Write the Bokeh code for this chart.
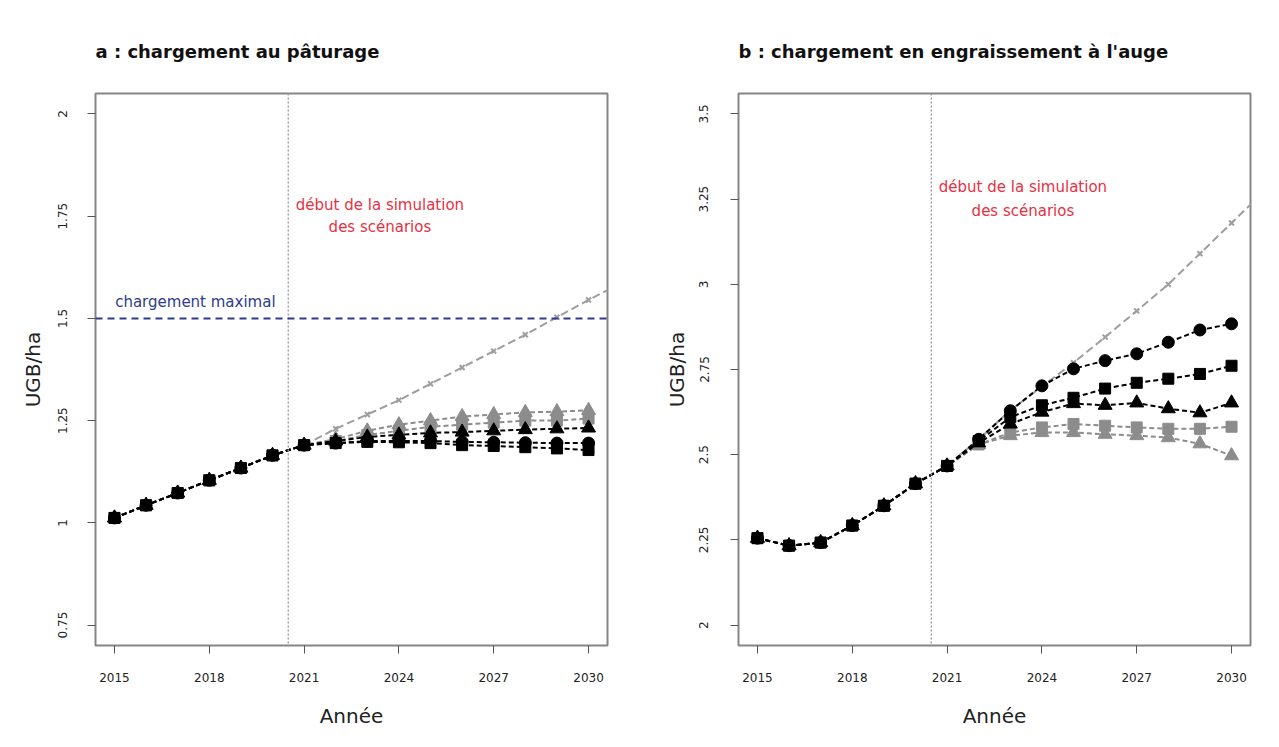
from bokeh.plotting import figure
from bokeh.layouts import row
from bokeh.models import Span, Label, FixedTicker, Title
from bokeh.embed import file_html
from bokeh.resources import INLINE

# ---------------- data ----------------
years_hist = [2015, 2016, 2017, 2018, 2019, 2020, 2021]
years_scen = [2022, 2023, 2024, 2025, 2026, 2027, 2028, 2029, 2030]
years_rise = [2022, 2023, 2024, 2025, 2026, 2027, 2028, 2029, 2030, 2031]

x_ticks = [2015, 2018, 2021, 2024, 2027, 2030]

# panel a : chargement au pâturage
hist_a = [1.012, 1.043, 1.073, 1.104, 1.134, 1.165, 1.19]
rise_a = [1.23, 1.265, 1.30, 1.34, 1.38, 1.42, 1.46, 1.503, 1.545, 1.585]
grey_tri_a = [1.205, 1.225, 1.24, 1.25, 1.26, 1.265, 1.27, 1.272, 1.275]
grey_sq_a = [1.20, 1.215, 1.225, 1.235, 1.24, 1.245, 1.25, 1.25, 1.255]
blk_tri_a = [1.20, 1.21, 1.215, 1.22, 1.222, 1.225, 1.228, 1.23, 1.232]
blk_circ_a = [1.195, 1.20, 1.20, 1.20, 1.198, 1.197, 1.196, 1.195, 1.195]
blk_sq_a = [1.195, 1.198, 1.197, 1.195, 1.19, 1.188, 1.185, 1.182, 1.178]
y_ticks_a = [0.75, 1, 1.25, 1.5, 1.75, 2]
y_labels_a = ["0.75", "1", "1.25", "1.5", "1.75", "2"]
charge_max = 1.5

# panel b : chargement en engraissement à l'auge
hist_b = [2.255, 2.233, 2.242, 2.292, 2.35, 2.415, 2.467]
rise_b = [2.545, 2.63, 2.70, 2.77, 2.845, 2.922, 3.0, 3.09, 3.18, 3.27]
grey_tri_b = [2.53, 2.556, 2.565, 2.565, 2.56, 2.556, 2.55, 2.532, 2.497]
grey_sq_b = [2.53, 2.565, 2.58, 2.59, 2.585, 2.58, 2.576, 2.576, 2.582]
blk_tri_b = [2.535, 2.59, 2.625, 2.65, 2.645, 2.652, 2.635, 2.623, 2.652]
blk_sq_b = [2.54, 2.61, 2.645, 2.667, 2.694, 2.711, 2.723, 2.737, 2.761]
blk_circ_b = [2.545, 2.629, 2.702, 2.752, 2.776, 2.796, 2.83, 2.866, 2.884]
y_ticks_b = [2, 2.25, 2.5, 2.75, 3, 3.25, 3.5]
y_labels_b = ["2", "2.25", "2.5", "2.75", "3", "3.25", "3.5"]

sim_start = 2020.5

FONT = "DejaVu Sans"
BLACK = "#000000"
GREY = "#8c8c8c"
RISE = "#9e9e9e"
RED = "#e8303f"
BLUE = "#2d3c8e"


def make_panel(title, hist, rise, series, y_range, y_ticks, y_labels,
               width, border_left, border_right, red_pos, ylab_standoff, ytick_standoff):
    p = figure(width=width, height=730, x_range=(2014.4, 2030.6), y_range=y_range,
               output_backend="svg", toolbar_location=None,
               min_border_left=border_left, min_border_right=border_right,
               min_border_top=93, min_border_bottom=83)
    p.add_layout(Title(text=title, align="left", text_font=FONT, text_font_size="18px",
                       text_font_style="bold", text_color="#111111", standoff=64), "above")
    p.grid.visible = False
    p.background_fill_color = "white"
    p.border_fill_color = "white"
    p.outline_line_color = "#858585"
    p.outline_line_width = 2

    for ax in (p.xaxis[0], p.yaxis[0]):
        ax.axis_line_color = None
        ax.minor_tick_line_color = None
        ax.major_tick_line_color = "#555555"
        ax.major_tick_line_width = 1
        ax.major_tick_in = 0
        ax.major_tick_out = 8
        ax.major_label_text_font = FONT
        ax.major_label_text_font_size = "12px"
        ax.major_label_text_color = "#222222"
        ax.axis_label_text_font = FONT
        ax.axis_label_text_font_size = "20px"
        ax.axis_label_text_font_style = "normal"
        ax.axis_label_text_color = "#222222"

    p.xaxis.ticker = FixedTicker(ticks=x_ticks)
    p.xaxis.axis_label = "Année"
    p.xaxis.major_label_standoff = 19
    p.xaxis.axis_label_standoff = 19

    p.yaxis.ticker = FixedTicker(ticks=y_ticks)
    p.yaxis.major_label_overrides = {t: l for t, l in zip(y_ticks, y_labels)}
    p.yaxis.major_label_orientation = "vertical"
    p.yaxis.axis_label = "UGB/ha"
    p.yaxis.major_label_standoff = ytick_standoff
    p.yaxis.axis_label_standoff = ylab_standoff

    # vertical start-of-simulation line
    p.add_layout(Span(location=sim_start, dimension="height", line_color="#a69cb0",
                      line_dash="2 2", line_width=1.5))

    # rising scenario (grey, small crosses)
    rx = [years_hist[-1]] + years_rise
    ry = [hist[-1]] + rise
    p.line(rx, ry, line_color=RISE, line_width=2, line_dash="8 4")
    p.scatter(years_rise[:-1], rise[:-1], marker="x", size=7, line_color=RISE, line_width=2)

    for vals, color, marker, size in series:
        xs = years_hist + years_scen
        ys = hist + vals
        p.line(xs, ys, line_color=color, line_width=2, line_dash="5 3")
        p.scatter(xs, ys, marker=marker, size=size, fill_color=color, line_color=color)

    p.add_layout(Label(x=red_pos[0], y=red_pos[1], text="début de la simulation",
                       text_align="center", text_baseline="middle", text_font=FONT,
                       text_font_size="15px", text_color=RED))
    p.add_layout(Label(x=red_pos[0], y=red_pos[2], text="des scénarios",
                       text_align="center", text_baseline="middle", text_font=FONT,
                       text_font_size="15px", text_color=RED))
    return p


series_a = [
    (grey_tri_a, GREY, "triangle", 14),
    (grey_sq_a, GREY, "square", 11),
    (blk_circ_a, BLACK, "circle", 12),
    (blk_sq_a, BLACK, "square", 11),
    (blk_tri_a, BLACK, "triangle", 14),
]
series_b = [
    (grey_tri_b, GREY, "triangle", 14),
    (grey_sq_b, GREY, "square", 11),
    (blk_circ_b, BLACK, "circle", 12),
    (blk_sq_b, BLACK, "square", 11),
    (blk_tri_b, BLACK, "triangle", 14),
]

pa = make_panel("a : chargement au pâturage", hist_a, rise_a, series_a,
                (0.7, 2.05), y_ticks_a, y_labels_a, 640, 95, 33,
                (2023.4, 1.777, 1.723), 11, 20)
pa.add_layout(Span(location=charge_max, dimension="width", line_color=BLUE,
                   line_dash="7 5", line_width=2))
pa.add_layout(Label(x=2017.56, y=1.541, text="chargement maximal", text_align="center",
                    text_baseline="middle", text_font=FONT, text_font_size="15px",
                    text_color=BLUE))

pb = make_panel("b : chargement en engraissement à l'auge", hist_b, rise_b, series_b,
                (1.94, 3.56), y_ticks_b, y_labels_b, 631, 98, 21,
                (2023.4, 3.286, 3.216), 8, 22)

layout = row(pa, pb)
open("out.html", "w").write(file_html(layout, INLINE))
